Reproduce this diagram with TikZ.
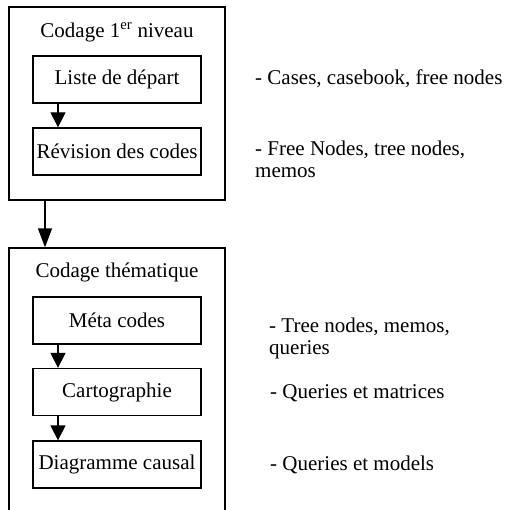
\documentclass[tikz,border=0pt]{standalone}
\usepackage{fontspec}
\setmainfont{Liberation Serif}
\usetikzlibrary{arrows.meta,positioning}
\tikzstyle{every node}=[font=\fontsize{21}{22}\selectfont]
\tikzstyle{niveau}=[draw=black,line width=1.3pt,minimum width=216pt,inner sep=0pt]
\tikzstyle{etape}=[draw=black,line width=1.3pt,minimum width=168pt,minimum height=47pt,inner sep=0pt]
\tikzstyle{outil}=[anchor=base west,align=left,inner sep=0pt]
\tikzstyle{fleche}=[line width=1.3pt,-{Triangle[length=15pt,width=15pt]}]

\begin{document}
\begin{tikzpicture}[x=1pt,y=-1pt]
          \useasboundingbox (0,0) rectangle (508,510);
          \node[niveau,minimum height=193pt] (n1) at (117,103.5) {};
          \node[niveau,minimum height=267pt] (n2) at (117,381.5) {};
          \node[inner sep=0pt] (t1) at (117,32) {Codage 1\textsuperscript{er} niveau};
          \node[inner sep=0pt] (t2) at (117,272) {Codage thématique};

          \node[etape] (liste) at (117,79.5) {Liste de départ};
          \node[etape] (revision) at (117,151.5) {Révision des codes};
          \node[etape] (meta) at (117,320.5) {Méta codes};
          \node[etape] (carto) at (117,392) {Cartographie};
          \node[etape] (diag) at (117,464.5) {Diagramme causal};

          \node[outil] (o1) at (255,85) {- Cases, casebook, free nodes};
          \node[outil] (o2) at (255,178) {- Free Nodes, tree nodes,\\memos};
          \node[outil] (o3) at (269,354) {- Tree nodes, memos,\\queries};
          \node[outil] (o4) at (270,398) {- Queries et matrices};
          \node[outil] (o5) at (270,470) {- Queries et models};

	    \draw[fleche] ([xshift=-59pt]liste.south) -- ([xshift=-59pt]revision.north);
	    \draw[fleche,-{Triangle[length=19pt,width=14pt]}] ([xshift=-72pt]n1.south) -- ([xshift=-72pt]n2.north);
	    \draw[fleche] ([xshift=-59pt]meta.south) -- ([xshift=-59pt]carto.north);
	    \draw[fleche] ([xshift=-59pt]carto.south) -- ([xshift=-59pt]diag.north);
        \end{tikzpicture}
\end{document}
